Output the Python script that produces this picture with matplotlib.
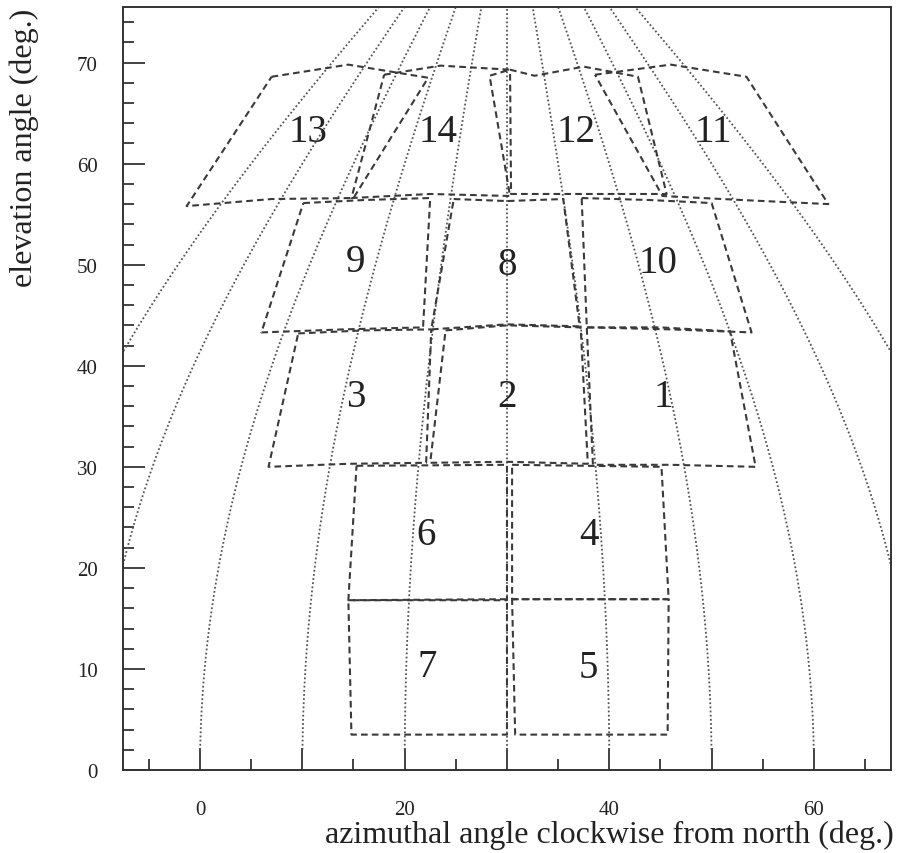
import numpy as np
import matplotlib
matplotlib.use("Agg")
import matplotlib.pyplot as plt

# meridians of constant azimuth (deg), drawn over elevation
meridian_az = [-20, -10, 0, 10, 20, 30, 40, 50, 60, 70, 80]
centre_az = 30.0

# field outlines: corner points in (azimuth, elevation)
field_labels = ['1', '2', '3', '4', '5', '6', '7', '8', '9', '10', '11', '12', '13', '14']
field_x = [
    [37.8, 45.0, 51.8, 54.3, 46.0, 38.4],   # 1
    [24.0, 30.0, 37.2, 37.9, 30.0, 22.5],   # 2
    [9.6, 16.0, 22.6, 22.1, 14.5, 6.7],     # 3
    [30.5, 45.1, 45.8, 30.5],               # 4
    [30.5, 45.8, 45.7, 30.8],               # 5
    [15.3, 30.0, 30.0, 14.5],               # 6
    [14.5, 30.0, 30.0, 14.8],               # 7
    [24.8, 30.0, 35.5, 37.1, 30.0, 22.6],   # 8
    [10.1, 16.0, 22.5, 21.8, 14.0, 6.0],    # 9
    [37.3, 44.0, 50.0, 53.9, 46.0, 37.8],   # 10
    [38.6, 46.0, 53.4, 61.4, 53.0, 45.2],   # 11
    [30.3, 32.7, 37.5, 42.8, 45.6, 38.0, 30.4],   # 12
    [7.0, 14.5, 22.3, 15.0, 7.0, -1.3],     # 13
    [18.0, 23.5, 30.3, 28.3, 30.3, 22.5, 14.8],   # 14
]
field_y = [
    [43.8, 43.8, 43.4, 30.0, 30.2, 30.2],
    [43.5, 44.0, 43.8, 30.3, 30.5, 30.4],
    [43.2, 43.5, 43.6, 30.4, 30.3, 30.0],
    [30.2, 30.0, 16.9, 16.9],
    [16.9, 16.9, 3.5, 3.5],
    [30.1, 30.2, 16.8, 16.8],
    [16.8, 16.9, 3.5, 3.5],
    [56.5, 56.3, 56.5, 43.9, 44.1, 43.6],
    [56.1, 56.4, 56.6, 43.8, 43.6, 43.3],
    [56.6, 56.4, 56.1, 43.3, 43.6, 43.8],
    [68.8, 69.8, 68.6, 56.0, 56.4, 56.8],
    [69.3, 68.7, 69.6, 68.6, 57.0, 57.0, 57.0],
    [68.6, 69.8, 68.5, 56.6, 56.5, 55.8],
    [68.8, 69.7, 69.3, 68.7, 56.8, 57.0, 56.6],
]
label_x = [45.3, 30.0, 15.2, 38.0, 37.9, 22.1, 22.2, 30.0, 15.2, 44.8, 50.2, 36.8, 10.6, 23.3]
label_y = [37.0, 37.0, 37.0, 23.3, 10.1, 23.3, 10.2, 50.0, 50.3, 50.2, 63.2, 63.2, 63.2, 63.2]

xticks = [0, 10, 20, 30, 40, 50, 60]
xtick_labels = ['0', '', '20', '', '40', '', '60']
yticks = [0, 10, 20, 30, 40, 50, 60, 70]

plt.rcParams['font.family'] = ['Liberation Serif', 'DejaVu Serif']

fig = plt.figure(figsize=(8.97, 8.54), dpi=100)
ax = fig.add_axes([0.1368, 0.0972, 0.8562, 0.8934])

elev = np.linspace(2, 90, 400)
for az in meridian_az:
    x = centre_az + (az - centre_az) * np.cos(np.radians(elev))
    ax.plot(x, elev, linestyle=(0, (1, 1.3)), color='#555555', lw=1.3)

for fx, fy in zip(field_x, field_y):
    ax.plot(fx + fx[:1], fy + fy[:1], linestyle=(0, (3.2, 2.0)), color='#3a3a3a', lw=1.5)

for lab, lx, ly in zip(field_labels, label_x, label_y):
    ax.text(lx, ly, lab, fontsize=28, ha='center', va='center', color='#222222')

ax.set_xlim(-7.55, 67.5)
ax.set_ylim(0, 75.5)

ax.set_xticks(xticks)
ax.set_xticklabels(xtick_labels)
ax.set_xticks(np.arange(-5, 67, 5), minor=True)
ax.set_yticks(yticks)
ax.set_yticks(np.arange(0, 76, 2), minor=True)
ax.tick_params(which='both', direction='in', colors='#222222', labelsize=15)
ax.tick_params(axis='x', which='major', length=15.5, width=1.2, pad=21.5)
ax.tick_params(axis='x', which='minor', length=8, width=1.2)
ax.tick_params(axis='y', which='major', length=15.5, width=1.2, pad=18)
ax.tick_params(axis='y', which='minor', length=8, width=1.2)
for sp in ax.spines.values():
    sp.set_linewidth(1.4)
    sp.set_color('#333333')

fig.text(0.996, 0.013, 'azimuthal angle clockwise from north (deg.)',
         ha='right', va='baseline', fontsize=23, color='#222222')
fig.text(0.027, 0.99, 'elevation angle (deg.)', rotation=90,
         ha='center', va='top', fontsize=23, color='#222222')

fig.savefig('out.png', dpi=100)
